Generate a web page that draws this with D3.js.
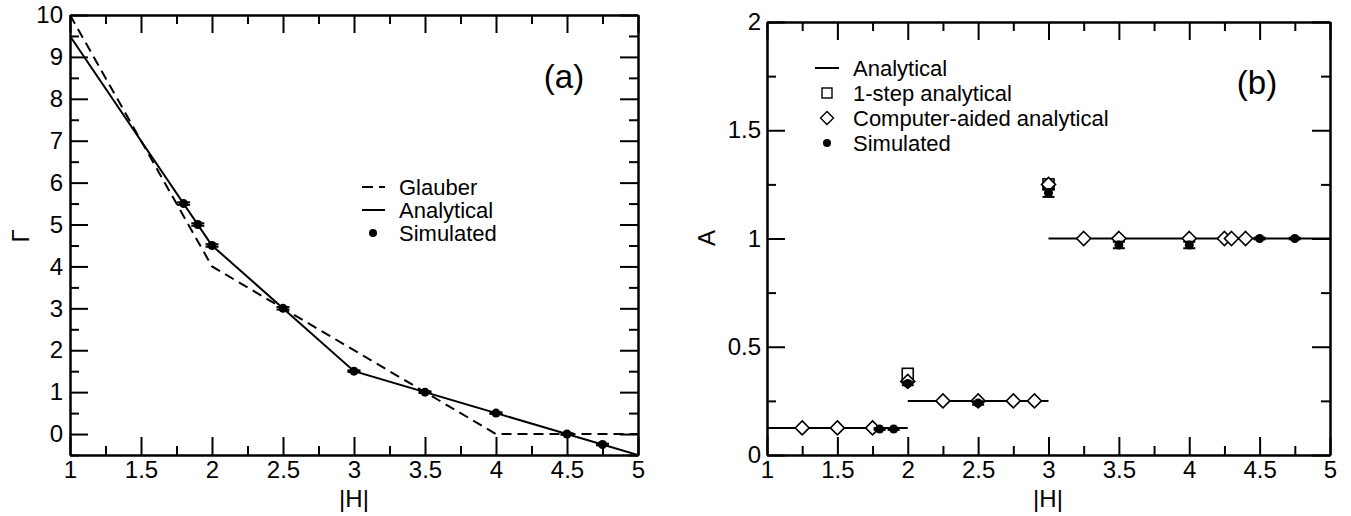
<!DOCTYPE html>
<html><head><meta charset="utf-8">
<script src="https://cdn.jsdelivr.net/npm/d3@7"></script>
<style>
html,body{margin:0;padding:0;background:#fff;}
text{font-family:"Liberation Sans",Arial,Helvetica,sans-serif;fill:#000;}
</style></head>
<body><svg id="chart" width="1351" height="516"></svg>
<script>
// ---------- Data: panel (a) ----------
const aGlauberX = [1, 2, 4, 5];
const aGlauberY = [10, 4, 0, 0];
const aAnalyticalX = [1, 2, 3, 5];
const aAnalyticalY = [9.5, 4.5, 1.5, -0.5];
const aSimX = [1.8, 1.9, 2, 2.5, 3, 3.5, 4, 4.5, 4.75];
const aSimY = [5.5, 5.0, 4.5, 3.0, 1.5, 1.0, 0.5, 0.0, -0.25];
const aSimErr = [0.03, 0.03, 0.03, 0.03, 0.02, 0.02, 0.02, 0.02, 0.02];
const aLegend = ["Glauber", "Analytical", "Simulated"];
const aXTicks = [1, 1.5, 2, 2.5, 3, 3.5, 4, 4.5, 5];
const aYTicks = [0, 1, 2, 3, 4, 5, 6, 7, 8, 9, 10];

// ---------- Data: panel (b) ----------
const bAnalyticalStart = [1, 2, 3];
const bAnalyticalEnd = [2, 3, 5];
const bAnalyticalY = [0.125, 0.25, 1];
const bOneStepX = [2, 3];
const bOneStepY = [0.375, 1.25];
const bCompX = [1.25, 1.5, 1.75, 2, 2.25, 2.5, 2.75, 2.9, 3, 3.25, 3.5, 4, 4.25, 4.3, 4.4];
const bCompY = [0.125, 0.125, 0.125, 0.34, 0.25, 0.25, 0.25, 0.25, 1.25, 1, 1, 1, 1, 1, 1];
const bSimX = [1.8, 1.9, 2, 2.5, 3, 3.5, 4, 4.5, 4.75];
const bSimY = [0.12, 0.12, 0.33, 0.24, 1.21, 0.97, 0.97, 1.0, 1.0];
const bSimErr = [0.004, 0.004, 0.008, 0.008, 0.018, 0.015, 0.015, 0.004, 0.004];
const bLegend = ["Analytical", "1-step analytical", "Computer-aided analytical", "Simulated"];
const bXTicks = [1, 1.5, 2, 2.5, 3, 3.5, 4, 4.5, 5];
const bYTicks = [0, 0.5, 1, 1.5, 2];

const svg = d3.select("#chart");
const FONT = 24;
const LFONT = 22;

function frame(g, x, y, xMajor, yMajor, xMinorStep, yMinorStep, yFmt, yPad) {
  const [x0, x1] = x.range(), [y0, y1] = y.range(); // y0 bottom, y1 top
  const xd = x.domain(), yd = y.domain();
  const xMinor = d3.range(xd[0], xd[1] + 1e-9, xMinorStep).filter(v => !xMajor.some(m => Math.abs(m - v) < 1e-9));
  const yMinor = d3.range(yd[0], yd[1] + 1e-9, yMinorStep).filter(v => !yMajor.some(m => Math.abs(m - v) < 1e-9));
  const mk = (axisFn, scale, vals, size, lab, pad, fmt) => axisFn(scale).tickValues(vals).tickSizeInner(-size).tickSizeOuter(0).tickPadding(pad).tickFormat(lab ? fmt : () => "");
  const style = sel => {
    sel.select(".domain").attr("stroke", "#000").attr("stroke-width", 2);
    sel.selectAll(".tick line").attr("stroke", "#000").attr("stroke-width", 2);
    sel.selectAll(".tick text").attr("font-size", FONT).attr("font-family", "Liberation Sans, Arial, sans-serif").attr("fill", "#000");
  };
  const xf = d => d3.format("")(d);
  g.append("g").attr("transform", `translate(0,${y0})`).call(mk(d3.axisBottom, x, xMajor, 18, true, 6, xf)).call(style);
  g.append("g").attr("transform", `translate(0,${y0})`).call(mk(d3.axisBottom, x, xMinor, 9, false, 0)).call(style);
  g.append("g").attr("transform", `translate(0,${y1})`).call(mk(d3.axisTop, x, xMajor, 18, false, 0)).call(style);
  g.append("g").attr("transform", `translate(0,${y1})`).call(mk(d3.axisTop, x, xMinor, 9, false, 0)).call(style);
  g.append("g").attr("transform", `translate(${x0},0)`).call(mk(d3.axisLeft, y, yMajor, 18, true, yPad, yFmt)).call(style);
  g.append("g").attr("transform", `translate(${x0},0)`).call(mk(d3.axisLeft, y, yMinor, 9, false, 0)).call(style);
  g.append("g").attr("transform", `translate(${x1},0)`).call(mk(d3.axisRight, y, yMajor, 18, false, 0)).call(style);
  g.append("g").attr("transform", `translate(${x1},0)`).call(mk(d3.axisRight, y, yMinor, 9, false, 0)).call(style);
}

// ================= Panel (a) =================
{
  const x = d3.scaleLinear().domain([1, 5]).range([70, 638]);
  const y = d3.scaleLinear().domain([-0.5, 10]).range([455, 15]);
  const g = svg.append("g");
  svg.append("clipPath").attr("id", "clipA").append("rect")
    .attr("x", 70).attr("y", 15).attr("width", 568).attr("height", 440);
  const line = d3.line().x(d => x(d[0])).y(d => y(d[1]));
  const data = g.append("g").attr("clip-path", "url(#clipA)");
  data.append("path").datum(d3.zip(aGlauberX, aGlauberY)).attr("d", line)
    .attr("fill", "none").attr("stroke", "#000").attr("stroke-width", 2).attr("stroke-dasharray", "10,6");
  data.append("path").datum(d3.zip(aAnalyticalX, aAnalyticalY)).attr("d", line)
    .attr("fill", "none").attr("stroke", "#000").attr("stroke-width", 2);
  aSimX.forEach((hx, i) => {
    const cx = x(hx), cy = y(aSimY[i]), e = aSimErr[i];
    [aSimY[i] - e, aSimY[i] + e].forEach(v => {
      g.append("line").attr("x1", cx - 6.5).attr("x2", cx + 6.5).attr("y1", y(v)).attr("y2", y(v)).attr("stroke", "#000").attr("stroke-width", 2);
    });
    g.append("circle").attr("cx", cx).attr("cy", cy).attr("r", 4.5).attr("fill", "#000");
  });
  frame(g, x, y, aXTicks, aYTicks, 0.25, 0.5, d3.format("d"), 7);
  const lg = g.append("g");
  const ly = [187, 210, 233];
  lg.append("line").attr("x1", 362).attr("x2", 385).attr("y1", ly[0]).attr("y2", ly[0]).attr("stroke", "#000").attr("stroke-width", 2).attr("stroke-dasharray", "11,6");
  lg.append("line").attr("x1", 362).attr("x2", 385).attr("y1", ly[1]).attr("y2", ly[1]).attr("stroke", "#000").attr("stroke-width", 2);
  lg.append("circle").attr("cx", 373).attr("cy", ly[2]).attr("r", 4).attr("fill", "#000");
  aLegend.forEach((t, i) => lg.append("text").attr("x", 399).attr("y", ly[i]).attr("dy", "0.35em").attr("font-size", LFONT).text(t));
  g.append("text").attr("x", 564).attr("y", 76).attr("dy", "0.35em").attr("text-anchor", "middle").attr("font-size", 33).text("(a)");
  g.append("text").attr("x", 354).attr("y", 507).attr("text-anchor", "middle").attr("font-size", FONT).text("|H|");
  g.append("text").attr("transform", "translate(29,236) rotate(-90)").attr("text-anchor", "middle").attr("font-size", FONT).text("Γ");
}

// ================= Panel (b) =================
{
  const x = d3.scaleLinear().domain([1, 5]).range([767, 1330]);
  const y = d3.scaleLinear().domain([0, 2]).range([455, 22]);
  const g = svg.append("g");
  bAnalyticalY.forEach((v, i) => {
    g.append("line").attr("x1", x(bAnalyticalStart[i])).attr("x2", x(bAnalyticalEnd[i]))
      .attr("y1", y(v)).attr("y2", y(v)).attr("stroke", "#000").attr("stroke-width", 2);
  });
  bOneStepX.forEach((hx, i) => {
    g.append("rect").attr("x", x(hx) - 5.5).attr("y", y(bOneStepY[i]) - 5.5).attr("width", 11).attr("height", 11)
      .attr("fill", "#fff").attr("stroke", "#000").attr("stroke-width", 1.6);
  });
  const dia = (cx, cy, r) => `M${cx},${cy - r}L${cx + r},${cy}L${cx},${cy + r}L${cx - r},${cy}Z`;
  bCompX.forEach((hx, i) => {
    g.append("path").attr("d", dia(x(hx), y(bCompY[i]), 7))
      .attr("fill", "#fff").attr("stroke", "#000").attr("stroke-width", 1.6);
  });
  bSimX.forEach((hx, i) => {
    const cx = x(hx), e = bSimErr[i];
    g.append("line").attr("x1", cx).attr("x2", cx).attr("y1", y(bSimY[i] - e)).attr("y2", y(bSimY[i] + e)).attr("stroke", "#000").attr("stroke-width", 2);
    [bSimY[i] - e, bSimY[i] + e].forEach(v => {
      g.append("line").attr("x1", cx - 6).attr("x2", cx + 6).attr("y1", y(v)).attr("y2", y(v)).attr("stroke", "#000").attr("stroke-width", 2);
    });
    g.append("circle").attr("cx", cx).attr("cy", y(bSimY[i])).attr("r", 4.5).attr("fill", "#000");
  });
  frame(g, x, y, bXTicks, bYTicks, 0.25, 0.25, d => d3.format("")(d), 6);
  const ly = [68, 93, 118, 143];
  const lg = g.append("g");
  lg.append("line").attr("x1", 815).attr("x2", 839).attr("y1", ly[0]).attr("y2", ly[0]).attr("stroke", "#000").attr("stroke-width", 2);
  lg.append("rect").attr("x", 827 - 5).attr("y", ly[1] - 5).attr("width", 10).attr("height", 10).attr("fill", "#fff").attr("stroke", "#000").attr("stroke-width", 1.4);
  lg.append("path").attr("d", dia(827, ly[2], 6.5)).attr("fill", "#fff").attr("stroke", "#000").attr("stroke-width", 1.4);
  lg.append("circle").attr("cx", 827).attr("cy", ly[3]).attr("r", 4).attr("fill", "#000");
  bLegend.forEach((t, i) => lg.append("text").attr("x", 853).attr("y", ly[i]).attr("dy", "0.35em").attr("font-size", LFONT).text(t));
  g.append("text").attr("x", 1257).attr("y", 82).attr("dy", "0.35em").attr("text-anchor", "middle").attr("font-size", 33).text("(b)");
  g.append("text").attr("x", 1048).attr("y", 507).attr("text-anchor", "middle").attr("font-size", FONT).text("|H|");
  g.append("text").attr("transform", "translate(715,238) rotate(-90)").attr("text-anchor", "middle").attr("font-size", FONT).text("A");
}
</script></body></html>
